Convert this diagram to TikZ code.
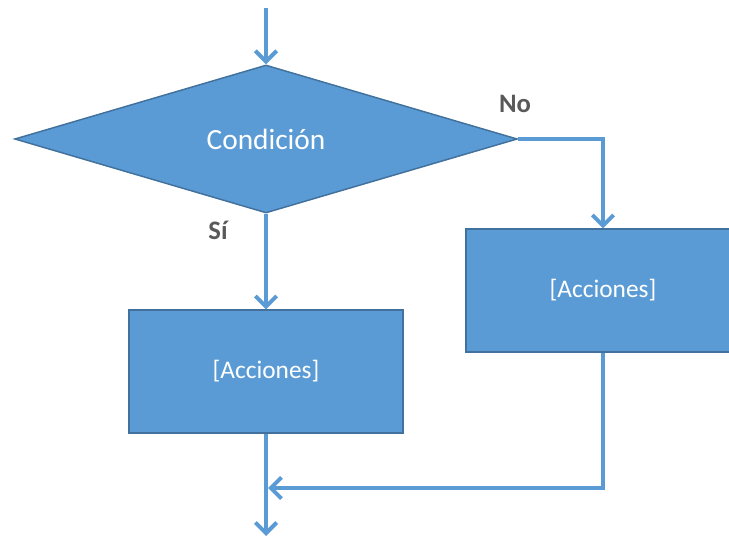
\documentclass[tikz,border=0pt]{standalone}
\usepackage{fontspec}
\setmainfont{Carlito}
\usepackage{xcolor}
\usetikzlibrary{arrows.meta,shapes.geometric}
\definecolor{Fill}{HTML}{5B9BD5}
\definecolor{Edge}{HTML}{41719C}
\definecolor{Wire}{HTML}{5B9BD5}
\definecolor{Label}{HTML}{595959}

\begin{document}
\begin{tikzpicture}[x=0.75pt,y=-0.75pt,
  act/.style={draw=Edge,fill=Fill,line width=1.1pt,minimum width=205.5pt,
    minimum height=92pt,inner sep=0pt,text=white,font=\fontsize{19}{22}\selectfont},
  cond/.style={diamond,draw=Edge,fill=Fill,line width=1.1pt,aspect=3.4,
    minimum width=377pt,minimum height=111pt,inner sep=0pt,text=white,
    font=\fontsize{22}{26}\selectfont},
  tag/.style={text=Label,font=\bfseries\fontsize{20}{24}\selectfont},
  flow/.style={draw=Wire,line width=3pt,-{Straight Barb[length=8pt,width=16pt]}}]
  \useasboundingbox (0,0) rectangle (729,538);
  \node[cond] (check) at (266,139) {Condición};
  \node[act] (yesbox) at (266,371.5) {[Acciones]};
  \node[act] (nobox) at (603,290.5) {[Acciones]};
  \node[tag] (nolbl) at (515,104) {No};
  \node[tag] (yeslbl) at (218,230) {Sí};
  \coordinate (start) at (266,8);
  \coordinate (finish) at (266,536);
  \coordinate (join) at (268,488);
  \draw[flow] (start) -- (check.north);
  \draw[flow] (check.south) -- (yesbox.north);
  \draw[flow] (check.east) -| (nobox.north);
  \draw[flow] (yesbox.south) -- (finish);
  \draw[flow] (nobox.south) |- (join);
\end{tikzpicture}
\end{document}
